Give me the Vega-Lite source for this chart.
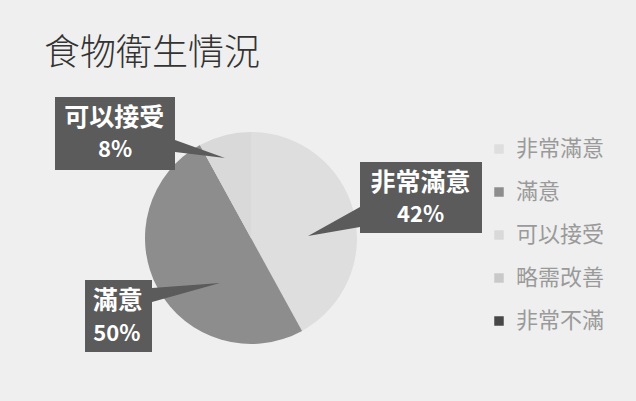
{
  "$schema": "https://vega.github.io/schema/vega-lite/v6.json",
  "width": 460,
  "height": 296,
  "autosize": {"type": "none"},
  "padding": {"left": 21, "top": 90, "right": 155, "bottom": 15},
  "background": "#efefef",
  "title": {"text": "食物衛生情況", "anchor": "start", "frame": "group", "fontSize": 36, "font": "Noto Sans CJK TC", "fontWeight": 300, "color": "#333333", "offset": 18, "dx": 23, "dy": 46},
  "config": {"view": {"stroke": null}},
  "data": {"values": [
    {"cat": "非常滿意", "pct": 0.42, "idx": 1},
    {"cat": "滿意", "pct": 0.50, "idx": 2},
    {"cat": "可以接受", "pct": 0.08, "idx": 3},
    {"cat": "略需改善", "pct": 0, "idx": 4},
    {"cat": "非常不滿", "pct": 0, "idx": 5}
  ]},
  "encoding": {
    "theta": {"field": "pct", "type": "quantitative", "stack": true},
    "order": {"field": "idx", "type": "quantitative"}
  },
  "layer": [
    {
      "mark": {"type": "arc", "outerRadius": 106},
      "encoding": {
        "color": {
          "field": "cat", "type": "nominal", "sort": null,
          "scale": {"domain": ["非常滿意", "滿意", "可以接受", "略需改善", "非常不滿"], "range": ["#dedede", "#8d8d8d", "#d9d9d9", "#c9c9c9", "#474747"]},
          "legend": {"orient": "none", "legendX": 467, "legendY": 48, "title": null, "symbolType": "square", "symbolSize": 90, "symbolStrokeWidth": 0, "labelFontSize": 22, "labelFont": "Noto Sans CJK TC", "labelColor": "#9a9a9a", "rowPadding": 21, "labelOffset": 6}
        }
      }
    },
    {
      "transform": [{"filter": "datum.pct > 0"}],
      "mark": {"type": "point", "size": 40000, "filled": true, "fill": "#5b5b5b", "opacity": 1, "strokeWidth": 0},
      "encoding": {
        "theta": null,
        "order": null,
        "shape": {
          "field": "cat", "type": "nominal", "legend": null,
          "scale": {
            "domain": ["非常滿意", "滿意", "可以接受"],
            "range": [
              "M1.09,-0.76 H2.31 V-0.05 H1.09 V-0.11 L0.57,-0.02 L1.09,-0.31 Z",
              "M-1.66,0.42 H-0.99 V0.50 L-0.31,0.45 L-0.99,0.64 V1.14 H-1.66 Z",
              "M-1.96,-1.41 H-0.76 V-0.98 L-0.26,-0.80 L-0.76,-0.86 V-0.68 H-1.96 Z"
            ]
          }
        }
      }
    },
    {
      "transform": [{"filter": "datum.pct > 0"}],
      "mark": {"type": "text", "radius": 175, "dy": -11, "font": "Noto Sans CJK TC", "fontWeight": "bold", "fontSize": 25, "fill": "#ffffff", "align": "center", "baseline": "middle"},
      "encoding": {"text": {"condition": {"test": "datum.cat === '非常滿意'", "field": "cat"}, "value": ""}}
    },
    {
      "transform": [{"filter": "datum.pct > 0"}],
      "mark": {"type": "text", "radius": 175, "dy": 21, "font": "Noto Sans CJK TC", "fontWeight": "bold", "fontSize": 22, "fill": "#ffffff", "align": "center", "baseline": "middle"},
      "encoding": {"text": {"condition": {"test": "datum.cat === '非常滿意'", "field": "pct", "type": "quantitative", "format": ".0%"}, "value": ""}}
    },
    {
      "transform": [{"filter": "datum.pct > 0"}],
      "mark": {"type": "text", "radius": 108, "dx": -110, "dy": -15, "font": "Noto Sans CJK TC", "fontWeight": "bold", "fontSize": 25, "fill": "#ffffff", "align": "center", "baseline": "middle"},
      "encoding": {"text": {"condition": {"test": "datum.cat === '可以接受'", "field": "cat"}, "value": ""}}
    },
    {
      "transform": [{"filter": "datum.pct > 0"}],
      "mark": {"type": "text", "radius": 108, "dx": -109, "dy": 17, "font": "Noto Sans CJK TC", "fontWeight": "bold", "fontSize": 22, "fill": "#ffffff", "align": "center", "baseline": "middle"},
      "encoding": {"text": {"condition": {"test": "datum.cat === '可以接受'", "field": "pct", "type": "quantitative", "format": ".0%"}, "value": ""}}
    },
    {
      "transform": [{"filter": "datum.pct > 0"}],
      "mark": {"type": "text", "radius": 152, "dy": -10, "font": "Noto Sans CJK TC", "fontWeight": "bold", "fontSize": 25, "fill": "#ffffff", "align": "center", "baseline": "middle"},
      "encoding": {"text": {"condition": {"test": "datum.cat === '滿意'", "field": "cat"}, "value": ""}}
    },
    {
      "transform": [{"filter": "datum.pct > 0"}],
      "mark": {"type": "text", "radius": 152, "dx": -1, "dy": 23, "font": "Noto Sans CJK TC", "fontWeight": "bold", "fontSize": 22, "fill": "#ffffff", "align": "center", "baseline": "middle"},
      "encoding": {"text": {"condition": {"test": "datum.cat === '滿意'", "field": "pct", "type": "quantitative", "format": ".0%"}, "value": ""}}
    }
  ]
}
